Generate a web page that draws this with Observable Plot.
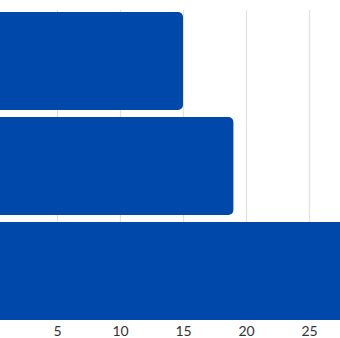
<!DOCTYPE html>
<html>
<head>
<meta charset="utf-8">
<script src="https://cdn.jsdelivr.net/npm/d3@7"></script>
<script src="https://cdn.jsdelivr.net/npm/@observablehq/plot@0.6"></script>
<style>
  html, body { margin: 0; padding: 0; background: #fff; overflow: hidden; }
  #chart svg { display: block; overflow: visible; }
</style>
</head>
<body>
<div id="chart"></div>
<script>
const categories = ["A", "B", "C"];
const values = [15, 19, 30];
const xTicks = [5, 10, 15, 20, 25];

const data = categories.map((c, i) => ({category: c, value: values[i]}));

const chart = Plot.plot({
  width: 340,
  height: 338,
  marginTop: 10,
  marginBottom: 18,
  marginLeft: 0,
  marginRight: 0,
  style: {fontFamily: "Lato", fontSize: "14px", color: "#333", background: "#fff", overflow: "visible"},
  x: {domain: [0, 30], range: [-6, 372], ticks: xTicks, label: null},
  y: {domain: categories, range: [11, 320], paddingInner: 0.07, paddingOuter: 0, axis: null},
  marks: [
    Plot.gridX(xTicks, {stroke: "#e0e0e0", strokeOpacity: 1, strokeWidth: 1.2}),
    Plot.barX(data, {x: "value", y: "category", fill: "#0048AA", rx: 5}),
    Plot.axisX({ticks: xTicks, tickSize: 0, tickPadding: 6, label: null, fill: "#333"})
  ]
});
document.getElementById("chart").appendChild(chart);
</script>
</body>
</html>
